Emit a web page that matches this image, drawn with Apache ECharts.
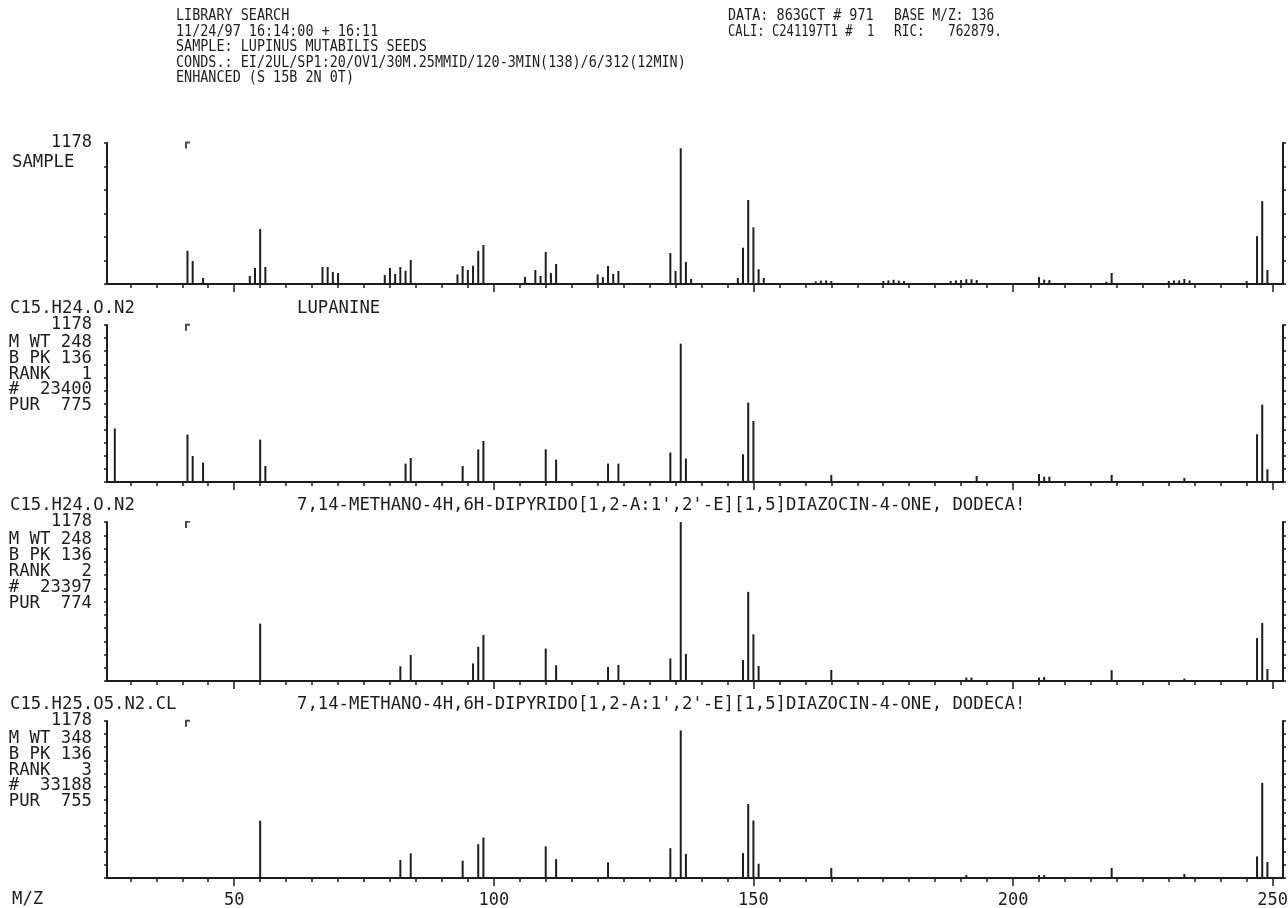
<html>
<head>
    <script src="https://cdn.jsdelivr.net/npm/echarts@6/dist/echarts.min.js"></script>
    <style>
        body { margin: 0; background: #fff; }
        #chart { width: 1288px; height: 908px; }
    </style>
</head>
<body>
    <div id="chart"></div>
    <script>
        // m/z and abundance (full scale 1178)
        var sampleMz = [41, 42, 44, 53, 54, 55, 56, 67, 68, 69, 70, 79, 80, 81, 82, 83, 84, 93, 94, 95, 96, 97, 98,
            106, 108, 109, 110, 111, 112, 120, 121, 122, 123, 124, 134, 135, 136, 137, 138, 147, 148, 149, 150, 151, 152,
            162, 163, 164, 165, 175, 176, 177, 178, 179, 188, 189, 190, 191, 192, 193, 205, 206, 207, 218, 219,
            230, 231, 232, 233, 234, 245, 247, 248, 249];
        var sampleAb = [277, 192, 50, 67, 134, 460, 142, 142, 142, 100, 92, 75, 134, 84, 142, 111, 200, 80, 150, 117, 153, 277, 326,
            58, 117, 67, 267, 92, 167, 80, 58, 150, 84, 109, 259, 109, 1134, 184, 42, 50, 303, 702, 473, 123, 50,
            22, 28, 30, 25, 25, 30, 35, 28, 25, 25, 30, 33, 40, 40, 33, 58, 36, 33, 20, 92,
            25, 30, 30, 42, 30, 25, 400, 693, 117];

        var lupMz = [27, 41, 42, 44, 55, 56, 83, 84, 94, 97, 98, 110, 112, 122, 124, 134, 136, 137, 148, 149, 150,
            165, 193, 205, 206, 207, 219, 233, 247, 248, 249];
        var lupAb = [401, 356, 195, 146, 318, 120, 138, 180, 120, 245, 308, 245, 168, 138, 138, 221, 1038, 176, 208, 596, 458,
            53, 45, 60, 40, 40, 53, 30, 358, 581, 95];

        var hit2Mz = [55, 82, 84, 96, 97, 98, 110, 112, 122, 124, 134, 136, 137, 148, 149, 150, 151, 165, 191, 192,
            205, 206, 219, 233, 247, 248, 249];
        var hit2Ab = [425, 109, 193, 130, 254, 341, 240, 117, 104, 119, 167, 1178, 200, 156, 660, 346, 111, 82, 25, 25,
            25, 30, 80, 18, 318, 430, 89];

        var hit3Mz = [55, 82, 84, 94, 97, 98, 110, 112, 122, 134, 136, 137, 148, 149, 150, 151, 165, 191, 205, 206,
            219, 233, 247, 248, 249];
        var hit3Ab = [430, 135, 185, 130, 254, 304, 237, 142, 117, 224, 1108, 180, 187, 555, 431, 107, 75, 22, 22, 22,
            75, 30, 162, 714, 120];

        var fullScale = 1178;
        var majorTicks = [50, 100, 150, 200, 250];
        var minorTicks = [30, 35, 40, 45, 55, 60, 65, 70, 75, 80, 85, 90, 95, 105, 110, 115, 120, 125, 130, 135, 140, 145,
            155, 160, 165, 170, 175, 180, 185, 190, 195, 205, 210, 215, 220, 225, 230, 235, 240, 245];

        var headerLeft = [
            'LIBRARY SEARCH',
            '11/24/97 16:14:00 + 16:11',
            'SAMPLE: LUPINUS MUTABILIS SEEDS',
            'CONDS.: EI/2UL/SP1:20/OV1/30M.25MMID/120-3MIN(138)/6/312(12MIN)',
            'ENHANCED (S 15B 2N 0T)'
        ];
        var headerMid = ['DATA: 863GCT # 971', 'CALI: C241197T1 #  1'];
        var headerRight = ['BASE M/Z: 136', 'RIC:   762879.'];

        var hitName = '7,14-METHANO-4H,6H-DIPYRIDO[1,2-A:1\',2\'-E][1,5]DIAZOCIN-4-ONE, DODECA!';
        var panelTitles = [
            ['SAMPLE', ''],
            ['C15.H24.O.N2', 'LUPANINE'],
            ['C15.H24.O.N2', hitName],
            ['C15.H25.O5.N2.CL', hitName]
        ];
        var hitInfo = [
            null,
            ['M WT 248', 'B PK 136', 'RANK   1', '#  23400', 'PUR  775'],
            ['M WT 248', 'B PK 136', 'RANK   2', '#  23397', 'PUR  774'],
            ['M WT 348', 'B PK 136', 'RANK   3', '#  33188', 'PUR  755']
        ];

        var ink = '#1d1d1d';
        var MONO = "'DejaVu Sans Mono', 'Liberation Mono', monospace";

        var panels = [
            { mz: sampleMz, ab: sampleAb, top: 143, height: 141, split: 6 },
            { mz: lupMz, ab: lupAb, top: 325, height: 157, split: 12 },
            { mz: hit2Mz, ab: hit2Ab, top: 522, height: 159, split: 12 },
            { mz: hit3Mz, ab: hit3Ab, top: 721, height: 157, split: 12 }
        ];

        var grids = [], xAxes = [], yAxes = [], series = [], graphics = [];

        function txt(x, y, s, size, align, sx) {
            return {
                type: 'text', x: x, y: y, silent: true, scaleX: sx || 1,
                style: {
                    text: s, fill: ink, font: size + 'px ' + MONO,
                    textAlign: align || 'left', textVerticalAlign: 'middle',
                    align: align || 'left', verticalAlign: 'middle'
                }
            };
        }

        panels.forEach(function (p, i) {
            var last = i === panels.length - 1;
            grids.push({ left: 107, right: 5, top: p.top, height: p.height, outerBoundsMode: 'none', containLabel: false });

            xAxes.push({
                gridIndex: i, type: 'value', position: 'bottom', min: 25.5, max: 252,
                axisLine: { show: true, onZero: false, lineStyle: { color: ink, width: 2 } },
                axisTick: { show: true, customValues: minorTicks, length: 4, lineStyle: { color: ink, width: 1.5 } },
                axisLabel: { show: false },
                splitLine: { show: false }
            });
            xAxes.push({
                gridIndex: i, type: 'value', position: 'bottom', min: 25.5, max: 252,
                axisLine: { show: false },
                axisTick: { show: true, customValues: majorTicks, length: 8, lineStyle: { color: ink, width: 1.5 } },
                axisLabel: {
                    show: last, customValues: majorTicks, margin: 7,
                    color: ink, fontFamily: MONO, fontSize: 17
                },
                splitLine: { show: false }
            });

            var yCommon = {
                gridIndex: i, type: 'value', min: 0, max: fullScale, interval: fullScale / p.split,
                splitLine: { show: false }
            };
            yAxes.push(Object.assign({}, yCommon, {
                position: 'left',
                axisLine: { show: true, lineStyle: { color: ink, width: 2 } },
                axisTick: { show: true, length: 3, lineStyle: { color: ink, width: 1.5 } },
                axisLabel: {
                    show: true, margin: 15, color: ink, fontFamily: MONO, fontSize: 17,
                    formatter: function (v) { return v > fullScale - 5 ? String(fullScale) : ''; }
                }
            }));
            yAxes.push(Object.assign({}, yCommon, {
                position: 'right',
                axisLine: { show: true, lineStyle: { color: ink, width: 2 } },
                axisTick: { show: true, length: 3, lineStyle: { color: ink, width: 1.5 } },
                axisLabel: { show: false }
            }));

            series.push({
                type: 'bar', xAxisIndex: i * 2, yAxisIndex: i * 2,
                barWidth: 2, silent: true,
                itemStyle: { color: ink },
                data: p.mz.map(function (m, k) { return [m, p.ab[k]]; })
            });
            // small flag the printer puts near the top at m/z 41
            series.push({
                type: 'scatter', xAxisIndex: i * 2, yAxisIndex: i * 2, silent: true,
                symbol: 'path://M0,0 L4,0 L4,1.6 L1.6,1.6 L1.6,6 L0,6 Z',
                symbolSize: [5, 7],
                itemStyle: { color: ink },
                data: [[41, fullScale * 0.985]]
            });

            // panel titles and hit info block
            var tY = i === 0 ? p.top + 20 : p.top - 16;
            graphics.push(txt(i === 0 ? 12 : 10, tY, panelTitles[i][0], 17.3));
            if (panelTitles[i][1]) graphics.push(txt(297, tY, panelTitles[i][1], 17.3));
            if (hitInfo[i]) {
                var step = p.height / 10;
                hitInfo[i].forEach(function (line, k) {
                    graphics.push(txt(92, p.top + 2 + step * (k + 1), line, 17.3, 'right'));
                });
            }
        });

        headerLeft.forEach(function (s, k) { graphics.push(txt(176, 16 + k * 15.5, s, 16, 'left', 0.84)); });
        headerMid.forEach(function (s, k) { graphics.push(txt(728, 16 + k * 15.5, s, 16, 'left', k ? 0.76 : 0.84)); });
        headerRight.forEach(function (s, k) { graphics.push(txt(894, 16 + k * 15.5, s, 16, 'left', 0.8)); });
        graphics.push(txt(12, 900, 'M/Z', 17.3));

        var chart = echarts.init(document.getElementById('chart'));
        chart.setOption({
            backgroundColor: '#ffffff',
            animation: false,
            grid: grids,
            xAxis: xAxes,
            yAxis: yAxes,
            series: series,
            graphic: graphics
        });
    </script>
</body>
</html>
